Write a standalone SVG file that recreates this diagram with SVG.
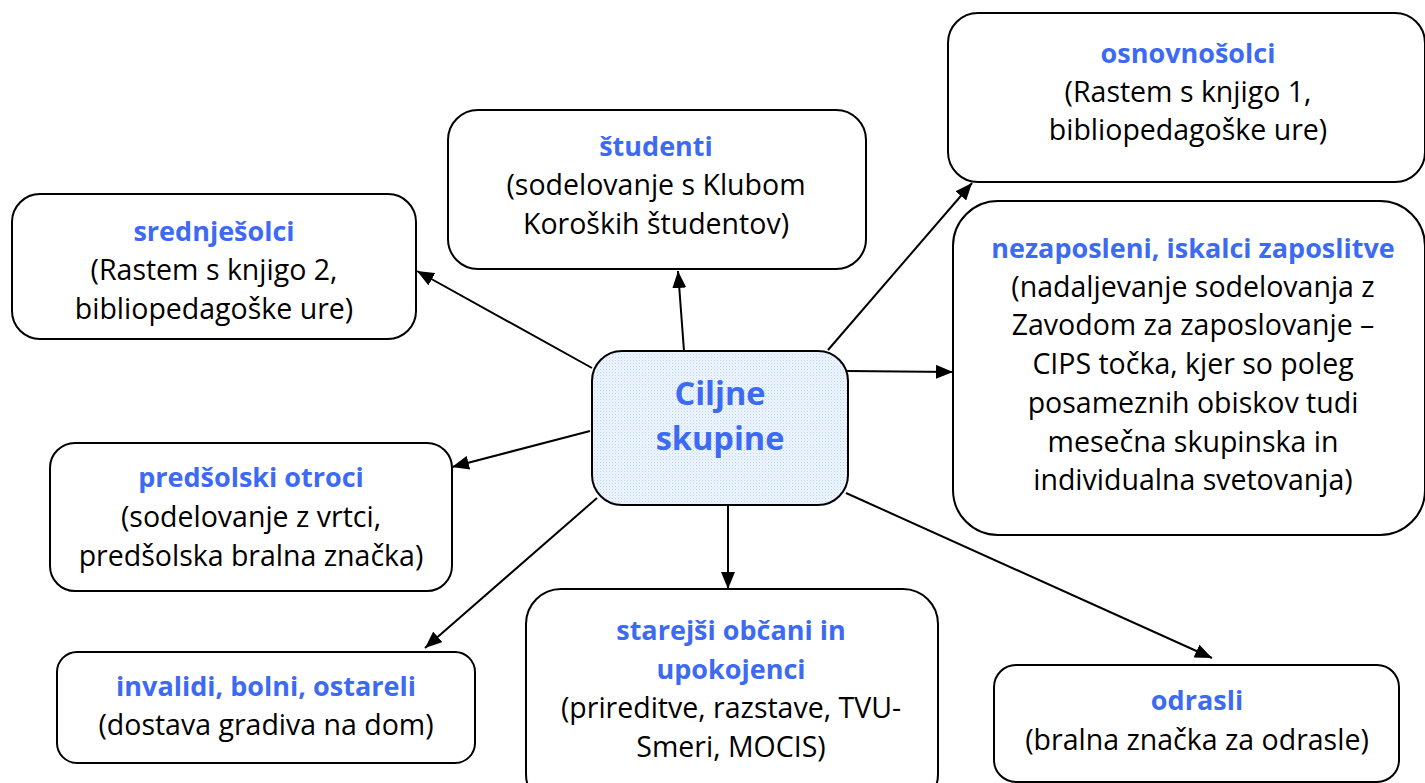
<svg xmlns="http://www.w3.org/2000/svg" width="1425" height="783" viewBox="0 0 1425 783">
<style>
.box{fill:#fff;stroke:#000;stroke-width:2}
.hub{fill:url(#dots);stroke:#000;stroke-width:2}
text{font-family:"Open Sans","Noto Sans",sans-serif;font-size:28.5px;text-anchor:middle;fill:#000}
.t{font-weight:bold;fill:#3D6AF2;font-size:27px}
.big{font-weight:bold;fill:#3D6AF2;font-size:32.5px}
.c{stroke:#000;stroke-width:2;fill:none;marker-end:url(#ah)}
</style>
<defs>
<pattern id="dots" width="3" height="3" patternUnits="userSpaceOnUse">
<rect width="3" height="3" fill="#EEF5FF"/>
<rect width="1" height="1" fill="#B9D4FA"/>
<rect x="1.5" y="1.5" width="1" height="1" fill="#CFE1FC"/>
</pattern>
<marker id="ah" markerUnits="userSpaceOnUse" markerWidth="18" markerHeight="14" refX="17" refY="7" orient="auto">
<path d="M0,0 L17,7 L0,14 Z" fill="#000"/>
</marker>
</defs>
<g id="connectors">
<line class="c" x1="592" y1="368" x2="417" y2="271"/>
<line class="c" x1="684" y1="351" x2="678" y2="271"/>
<line class="c" x1="828" y1="350" x2="972" y2="183"/>
<line class="c" x1="847" y1="371" x2="953" y2="372"/>
<line class="c" x1="590" y1="431" x2="452" y2="467"/>
<line class="c" x1="597" y1="498" x2="425" y2="648"/>
<line class="c" x1="728" y1="505" x2="728" y2="589"/>
<line class="c" x1="846" y1="493" x2="1212" y2="658"/>
</g>
<g id="osnovnosolci">
<rect class="box" x="948" y="13" width="477" height="169" rx="30"/>
<text x="1188" y="63" class="t">osnovnošolci</text>
<text x="1188" y="102">(Rastem s knjigo 1,</text>
<text x="1188" y="140">bibliopedagoške ure)</text>
</g>
<g id="studenti">
<rect class="box" x="448" y="110" width="418" height="159" rx="30"/>
<text x="656" y="156" class="t">študenti</text>
<text x="656" y="195">(sodelovanje s Klubom</text>
<text x="656" y="234">Koroških študentov)</text>
</g>
<g id="srednjesolci">
<rect class="box" x="12" y="194" width="404" height="145" rx="28"/>
<text x="214" y="241" class="t">srednješolci</text>
<text x="214" y="280">(Rastem s knjigo 2,</text>
<text x="214" y="319">bibliopedagoške ure)</text>
</g>
<g id="nezaposleni">
<rect class="box" x="953" y="201" width="472" height="334" rx="45"/>
<text x="1193" y="258" class="t">nezaposleni, iskalci zaposlitve</text>
<text x="1193" y="297">(nadaljevanje sodelovanja z</text>
<text x="1193" y="335">Zavodom za zaposlovanje –</text>
<text x="1193" y="374">CIPS točka, kjer so poleg</text>
<text x="1193" y="413">posameznih obiskov tudi</text>
<text x="1193" y="452">mesečna skupinska in</text>
<text x="1193" y="490">individualna svetovanja)</text>
</g>
<g id="ciljne-skupine">
<rect class="hub" x="592" y="351" width="256" height="154" rx="30"/>
<text x="720" y="405" class="big">Ciljne</text>
<text x="720" y="450" class="big">skupine</text>
</g>
<g id="predsolski">
<rect class="box" x="50" y="443" width="402" height="148" rx="25"/>
<text x="251" y="487" class="t">predšolski otroci</text>
<text x="251" y="527">(sodelovanje z vrtci,</text>
<text x="251" y="566">predšolska bralna značka)</text>
</g>
<g id="invalidi">
<rect class="box" x="57" y="652" width="418" height="111" rx="20"/>
<text x="266" y="696" class="t">invalidi, bolni, ostareli</text>
<text x="266" y="735">(dostava gradiva na dom)</text>
</g>
<g id="starejsi">
<rect class="box" x="526" y="589" width="412" height="220" rx="35"/>
<text x="731" y="640" class="t">starejši občani in</text>
<text x="731" y="679" class="t">upokojenci</text>
<text x="731" y="718">(prireditve, razstave, TVU-</text>
<text x="731" y="757">Smeri, MOCIS)</text>
</g>
<g id="odrasli">
<rect class="box" x="994" y="665" width="405" height="117" rx="22"/>
<text x="1197" y="710" class="t">odrasli</text>
<text x="1197" y="750">(bralna značka za odrasle)</text>
</g>
</svg>
